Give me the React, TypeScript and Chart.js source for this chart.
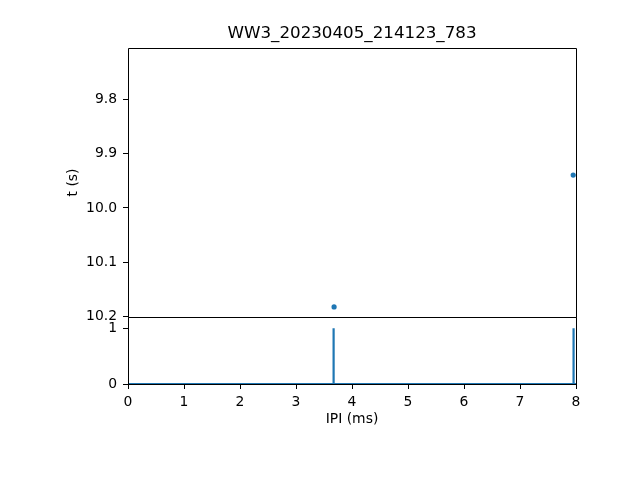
import React, { useEffect, useRef } from "react";
import { Chart, registerables } from "chart.js";

Chart.register(...registerables);

const TITLE = "WW3_20230405_214123_783";
const X_LABEL = "IPI (ms)";
const Y_LABEL = "t (s)";

const xTicks = [0, 1, 2, 3, 4, 5, 6, 7, 8];
const tTicks = [9.8, 9.9, 10.0, 10.1, 10.2];
const countTicks = [0, 1];

// scatter: IPI (ms) vs time (s)
const ipiValues = [7.95, 3.68];
const timeValues = [9.9395, 10.182];

// histogram of IPI (step outline)
const histEdges = [0, 3.665, 3.675, 7.95, 7.96, 8];
const histCounts = [0, 1, 0, 1, 0];

const FONT = "'DejaVu Sans', sans-serif";
const BLUE = "#1f77b4";

const framePlugin = {
  id: "frames",
  afterDraw(chart: any) {
    const ctx = chart.ctx;
    const area = chart.chartArea;
    ctx.save();
    ctx.strokeStyle = "#000000";
    ctx.lineWidth = 1;
    ["y", "y2"].forEach((id) => {
      const s = chart.scales[id];
      if (!s) return;
      const l = Math.round(area.left) + 0.5;
      const r = Math.round(area.right) + 0.5;
      const t = Math.round(s.top) + 0.5;
      const b = Math.round(s.bottom) + 0.5;
      ctx.beginPath();
      ctx.rect(l, t, r - l, b - t);
      ctx.stroke();
    });
    ctx.restore();
  },
};

export default function App() {
  const ref = useRef<HTMLCanvasElement>(null);

  useEffect(() => {
    if (!ref.current) return;
    const points = ipiValues.map((x, i) => ({ x, y: timeValues[i] }));
    const steps: { x: number; y: number }[] = [];
    histCounts.forEach((c, i) => {
      steps.push({ x: histEdges[i], y: c });
      steps.push({ x: histEdges[i + 1], y: c });
    });

    const tickFont = { family: FONT, size: 13.9 };
    const chart = new Chart(ref.current, {
      type: "scatter",
      data: {
        datasets: [
          {
            data: points,
            yAxisID: "y",
            xAxisID: "x",
            backgroundColor: BLUE,
            borderColor: BLUE,
            pointRadius: 2.6,
            borderWidth: 0,
            showLine: false,
          } as any,
          {
            data: steps,
            yAxisID: "y2",
            xAxisID: "x",
            borderColor: BLUE,
            backgroundColor: BLUE,
            borderWidth: 2.2,
            pointRadius: 0,
            showLine: true,
            fill: false,
            tension: 0,
          } as any,
        ],
      },
      options: {
        responsive: false,
        animation: false,
        devicePixelRatio: 1,
        layout: { padding: { left: 0, right: 64, top: 0, bottom: 0 }, autoPadding: false },
        plugins: {
          legend: { display: false },
          tooltip: { enabled: false },
          title: { display: false },
        },
        scales: {
          y2: {
            type: "linear",
            position: "left",
            stack: "v",
            stackWeight: 67,
            min: 0,
            max: 1.2,
            afterBuildTicks: (s: any) => {
              s.ticks = countTicks.map((v) => ({ value: v }));
            },
            afterFit: (s: any) => {
              s.width = 128;
            },
            ticks: {
              color: "#000",
              font: tickFont,
              padding: 6,
              callback: (v: any) => String(v),
            },
            grid: { drawOnChartArea: false, tickLength: 5, color: "#000", tickWidth: 1 },
            border: { display: false },
          },
          y: {
            type: "linear",
            position: "left",
            stack: "v",
            stackWeight: 269,
            reverse: true,
            min: 9.7056,
            max: 10.2006,
            afterBuildTicks: (s: any) => {
              s.ticks = tTicks.map((v) => ({ value: v }));
            },
            afterFit: (s: any) => {
              s.width = 128;
            },
            ticks: {
              color: "#000",
              font: tickFont,
              padding: 6,
              callback: (v: any) => Number(v).toFixed(1),
            },
            grid: { drawOnChartArea: false, tickLength: 5, color: "#000", tickWidth: 1 },
            border: { display: false },
            title: {
              display: true,
              text: Y_LABEL,
              color: "#000",
              font: tickFont,
              padding: { top: 65, bottom: 0 },
            },
          },
          x: {
            type: "linear",
            position: "bottom",
            min: 0,
            max: 8,
            afterBuildTicks: (s: any) => {
              s.ticks = xTicks.map((v) => ({ value: v }));
            },
            afterFit: (s: any) => {
              s.height = 96;
            },
            ticks: {
              color: "#000",
              font: tickFont,
              padding: 5,
              maxRotation: 0,
              callback: (v: any) => String(v),
            },
            grid: { drawOnChartArea: false, tickLength: 5, color: "#000", tickWidth: 1 },
            border: { display: false },
            title: {
              display: true,
              text: X_LABEL,
              color: "#000",
              font: tickFont,
              padding: { top: 0, bottom: 52 },
            },
          },
          xTop: {
            type: "linear",
            position: "top",
            min: 0,
            max: 8,
            afterFit: (s: any) => {
              s.height = 48;
            },
            ticks: { display: false },
            grid: { display: false, drawOnChartArea: false, drawTicks: false },
            border: { display: false },
            title: {
              display: true,
              text: TITLE,
              color: "#000",
              font: { family: FONT, size: 16.7 },
              padding: { top: 24, bottom: 0 },
            },
          },
        },
      } as any,
      plugins: [framePlugin],
    });
    return () => chart.destroy();
  }, []);

  return (
    <div style={{ position: "fixed", left: 0, top: 0, width: 640, height: 480, background: "#fff" }}>
      <canvas ref={ref} width={640} height={480} />
    </div>
  );
}
